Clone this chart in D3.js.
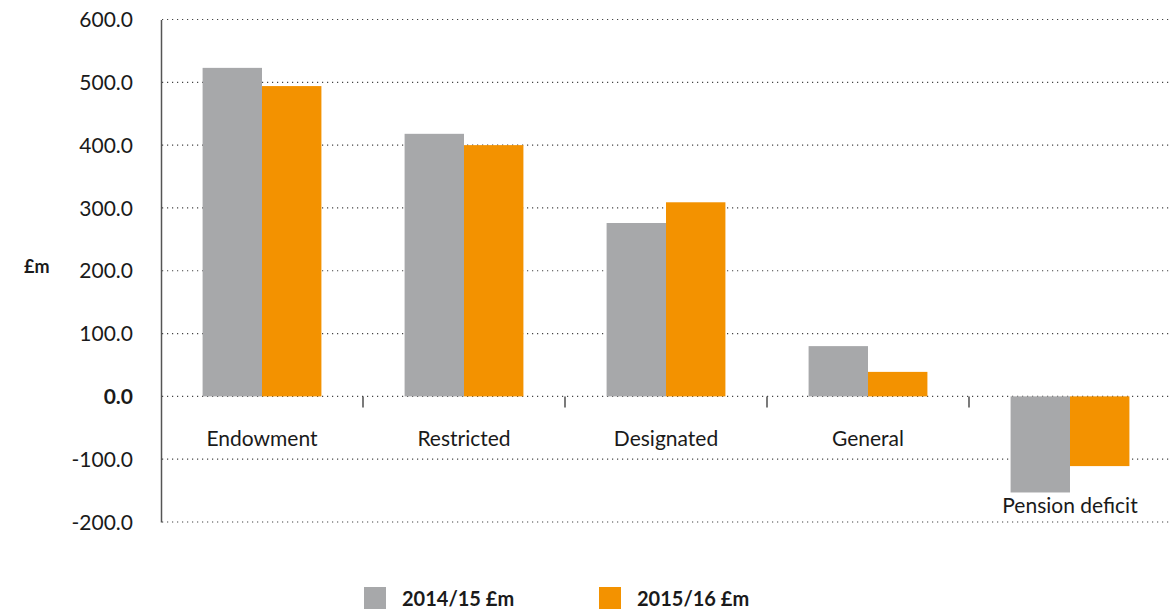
<!DOCTYPE html>
<html>
<head>
<meta charset="utf-8">
<script src="https://cdn.jsdelivr.net/npm/d3@7"></script>
<style>
  body { margin: 0; background: #fff; }
  text { font-family: Lato, "Open Sans", sans-serif; fill: #1a1a1a; }
</style>
</head>
<body>
<svg width="1170" height="612"></svg>
<script>
// data
const categories = ["Endowment", "Restricted", "Designated", "General", "Pension deficit"];
const series = ["2014/15 £m", "2015/16 £m"];
const values2014 = [523, 418, 276, 80, -153];
const values2015 = [494, 400, 309, 39, -111];
const yTicks = [600, 500, 400, 300, 200, 100, 0, -100, -200];

const colors = ["#a7a8aa", "#f39200"];

const svg = d3.select("svg");

// scales
const x = d3.scaleBand()
  .domain(categories)
  .range([161, 1171]);

const x1 = d3.scaleBand()
  .domain(series)
  .range([0, x.bandwidth()])
  .paddingOuter(0.7);

const y = d3.scaleLinear()
  .domain([-200, 600])
  .range([522, 19.5]);

const rows = categories.map((c, i) => ({ cat: c, vals: [values2014[i], values2015[i]] }));

// gridlines
svg.append("g")
  .selectAll("line")
  .data(yTicks)
  .join("line")
  .attr("x1", 162)
  .attr("x2", 1170)
  .attr("y1", d => y(d))
  .attr("y2", d => y(d))
  .attr("stroke", "#444")
  .attr("stroke-width", 1.2)
  .attr("stroke-dasharray", "1.2,3.8");

// y axis (plain hyphen for negatives, like the original)
const fmt = d => d.toFixed(1);
const yAxis = svg.append("g")
  .attr("transform", "translate(161,0)")
  .call(d3.axisLeft(y).tickValues(yTicks).tickSize(0).tickPadding(28).tickFormat(fmt));
yAxis.select(".domain").attr("stroke", "#555").attr("stroke-width", 1.5);
yAxis.selectAll(".tick text")
  .attr("font-size", "21px")
  .attr("font-family", "Lato, sans-serif")
  .attr("fill", "#1a1a1a")
  .attr("dy", "0.34em")
  .attr("font-weight", d => d === 0 ? "bold" : "normal");

// category ticks on the zero line
svg.append("g")
  .selectAll("line")
  .data(categories.slice(1))
  .join("line")
  .attr("x1", d => x(d))
  .attr("x2", d => x(d))
  .attr("y1", y(0))
  .attr("y2", y(0) + 11)
  .attr("stroke", "#333")
  .attr("stroke-width", 1.3);

// bars
const groups = svg.append("g")
  .selectAll("g")
  .data(rows)
  .join("g")
  .attr("transform", d => `translate(${x(d.cat)},0)`);

groups.selectAll("rect")
  .data(d => d.vals.map((v, i) => ({ s: series[i], v: v, i: i })))
  .join("rect")
  .attr("x", d => x1(d.s))
  .attr("width", x1.bandwidth())
  .attr("y", d => y(Math.max(0, d.v)))
  .attr("height", d => Math.abs(y(d.v) - y(0)))
  .attr("fill", d => colors[d.i]);

// category labels
svg.append("g")
  .selectAll("text")
  .data(rows)
  .join("text")
  .attr("x", d => x(d.cat) + x.bandwidth() / 2)
  .attr("y", d => {
    const lo = d3.min(d.vals);
    return lo < 0 ? y(lo) + 21 : y(0) + 50;
  })
  .attr("text-anchor", "middle")
  .attr("font-size", "21px")
  .text(d => d.cat);

// y label
svg.append("text")
  .attr("x", 24)
  .attr("y", 273)
  .attr("font-size", "18px")
  .attr("font-weight", "bold")
  .text("£m");

// legend
const legend = svg.append("g")
  .selectAll("g")
  .data(series)
  .join("g")
  .attr("transform", (d, i) => `translate(${364 + i * 235},587)`);

legend.append("rect")
  .attr("width", 22)
  .attr("height", 22)
  .attr("fill", (d, i) => colors[i]);

legend.append("text")
  .attr("x", 38)
  .attr("y", 19)
  .attr("font-size", "20px")
  .attr("font-weight", "bold")
  .text(d => d);
</script>
</body>
</html>
